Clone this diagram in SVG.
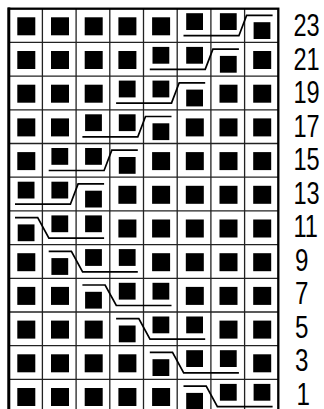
<svg xmlns="http://www.w3.org/2000/svg" xmlns:xlink="http://www.w3.org/1999/xlink" width="324" height="409" viewBox="0 0 324 409">
<style>
.grid line{stroke:#222;stroke-width:1.3}
.border{fill:none;stroke:#000;stroke-width:2.3}
.cab{fill:none;stroke:#000;stroke-width:1.7;stroke-linejoin:miter}
.lbl{font-family:"Liberation Sans","DejaVu Sans",sans-serif;font-size:31px;fill:#000}
</style>
<defs>
<rect id="n" width="18" height="18" fill="#000"/>
<rect id="c" width="16.8" height="16.8" fill="#000"/>
</defs>
<rect width="324" height="409" fill="#fff"/>
<g id="grid" class="grid">
<line x1="42.4" y1="8.7" x2="42.4" y2="414"/>
<line x1="76.1" y1="8.7" x2="76.1" y2="414"/>
<line x1="109.8" y1="8.7" x2="109.8" y2="414"/>
<line x1="143.5" y1="8.7" x2="143.5" y2="414"/>
<line x1="177.2" y1="8.7" x2="177.2" y2="414"/>
<line x1="210.9" y1="8.7" x2="210.9" y2="414"/>
<line x1="244.6" y1="8.7" x2="244.6" y2="414"/>
<line x1="8.7" y1="42.4" x2="278.3" y2="42.4"/>
<line x1="8.7" y1="76.1" x2="278.3" y2="76.1"/>
<line x1="8.7" y1="109.8" x2="278.3" y2="109.8"/>
<line x1="8.7" y1="143.5" x2="278.3" y2="143.5"/>
<line x1="8.7" y1="177.2" x2="278.3" y2="177.2"/>
<line x1="8.7" y1="210.9" x2="278.3" y2="210.9"/>
<line x1="8.7" y1="244.6" x2="278.3" y2="244.6"/>
<line x1="8.7" y1="278.3" x2="278.3" y2="278.3"/>
<line x1="8.7" y1="312" x2="278.3" y2="312"/>
<line x1="8.7" y1="345.7" x2="278.3" y2="345.7"/>
<line x1="8.7" y1="379.4" x2="278.3" y2="379.4"/>
<rect class="border" x="8.7" y="8.7" width="269.6" height="404.4"/>
<line x1="8.9" y1="7.5" x2="8.9" y2="414" style="stroke:#000;stroke-width:2.8"/>
</g>
<g id="row23">
<use href="#n" x="17.3" y="17.3"/><use href="#n" x="51" y="17.3"/><use href="#n" x="84.7" y="17.3"/><use href="#n" x="118.4" y="17.3"/><use href="#n" x="152.1" y="17.3"/>
<use href="#c" x="186.2" y="13.2"/><use href="#c" x="219.9" y="13.2"/><use href="#c" x="253.6" y="22.2"/>
</g>
<g id="row21">
<use href="#n" x="17.3" y="51"/><use href="#n" x="51" y="51"/><use href="#n" x="84.7" y="51"/><use href="#n" x="118.4" y="51"/>
<use href="#c" x="152.5" y="46.9"/><use href="#c" x="186.2" y="46.9"/><use href="#c" x="219.9" y="55.9"/>
<use href="#n" x="253.2" y="51"/>
</g>
<g id="row19">
<use href="#n" x="17.3" y="84.7"/><use href="#n" x="51" y="84.7"/><use href="#n" x="84.7" y="84.7"/>
<use href="#c" x="118.8" y="80.6"/><use href="#c" x="152.5" y="80.6"/><use href="#c" x="186.2" y="89.6"/>
<use href="#n" x="219.5" y="84.7"/><use href="#n" x="253.2" y="84.7"/>
</g>
<g id="row17">
<use href="#n" x="17.3" y="118.4"/><use href="#n" x="51" y="118.4"/>
<use href="#c" x="85.1" y="114.3"/><use href="#c" x="118.8" y="114.3"/><use href="#c" x="152.5" y="123.3"/>
<use href="#n" x="185.8" y="118.4"/><use href="#n" x="219.5" y="118.4"/><use href="#n" x="253.2" y="118.4"/>
</g>
<g id="row15">
<use href="#n" x="17.3" y="152.1"/>
<use href="#c" x="51.4" y="148"/><use href="#c" x="85.1" y="148"/><use href="#c" x="118.8" y="157"/>
<use href="#n" x="152.1" y="152.1"/><use href="#n" x="185.8" y="152.1"/><use href="#n" x="219.5" y="152.1"/><use href="#n" x="253.2" y="152.1"/>
</g>
<g id="row13">
<use href="#c" x="17.7" y="181.7"/><use href="#c" x="51.4" y="181.7"/><use href="#c" x="85.1" y="190.7"/>
<use href="#n" x="118.4" y="185.8"/><use href="#n" x="152.1" y="185.8"/><use href="#n" x="185.8" y="185.8"/><use href="#n" x="219.5" y="185.8"/><use href="#n" x="253.2" y="185.8"/>
</g>
<g id="row11">
<use href="#c" x="17.7" y="224.4"/><use href="#c" x="51.4" y="215.4"/><use href="#c" x="85.1" y="215.4"/>
<use href="#n" x="118.4" y="219.5"/><use href="#n" x="152.1" y="219.5"/><use href="#n" x="185.8" y="219.5"/><use href="#n" x="219.5" y="219.5"/><use href="#n" x="253.2" y="219.5"/>
</g>
<g id="row9">
<use href="#n" x="17.3" y="253.2"/>
<use href="#c" x="51.4" y="258.1"/><use href="#c" x="85.1" y="249.1"/><use href="#c" x="118.8" y="249.1"/>
<use href="#n" x="152.1" y="253.2"/><use href="#n" x="185.8" y="253.2"/><use href="#n" x="219.5" y="253.2"/><use href="#n" x="253.2" y="253.2"/>
</g>
<g id="row7">
<use href="#n" x="17.3" y="286.9"/><use href="#n" x="51" y="286.9"/>
<use href="#c" x="85.1" y="291.8"/><use href="#c" x="118.8" y="282.8"/><use href="#c" x="152.5" y="282.8"/>
<use href="#n" x="185.8" y="286.9"/><use href="#n" x="219.5" y="286.9"/><use href="#n" x="253.2" y="286.9"/>
</g>
<g id="row5">
<use href="#n" x="17.3" y="320.6"/><use href="#n" x="51" y="320.6"/><use href="#n" x="84.7" y="320.6"/>
<use href="#c" x="118.8" y="325.5"/><use href="#c" x="152.5" y="316.5"/><use href="#c" x="186.2" y="316.5"/>
<use href="#n" x="219.5" y="320.6"/><use href="#n" x="253.2" y="320.6"/>
</g>
<g id="row3">
<use href="#n" x="17.3" y="354.3"/><use href="#n" x="51" y="354.3"/><use href="#n" x="84.7" y="354.3"/><use href="#n" x="118.4" y="354.3"/>
<use href="#c" x="152.5" y="359.2"/><use href="#c" x="186.2" y="350.2"/><use href="#c" x="219.9" y="350.2"/>
<use href="#n" x="253.2" y="354.3"/>
</g>
<g id="row1">
<use href="#n" x="17.3" y="388"/><use href="#n" x="51" y="388"/><use href="#n" x="84.7" y="388"/><use href="#n" x="118.4" y="388"/><use href="#n" x="152.1" y="388"/>
<use href="#c" x="186.2" y="392.9"/><use href="#c" x="219.9" y="383.9"/><use href="#c" x="253.6" y="383.9"/>
</g>
<g id="connectors" class="cab">
<path d="M183.5 35.7H238.9L246.6 15.4H272.6"/>
<path d="M149.8 69.4H205.2L212.9 49.1H238.9"/>
<path d="M116.1 103.1H171.5L179.2 82.8H205.2"/>
<path d="M82.4 136.8H137.8L145.5 116.5H171.5"/>
<path d="M48.7 170.5H104.1L111.8 150.2H137.8"/>
<path d="M15 204.2H70.4L78.1 183.9H104.1"/>
<path d="M15 217.6H37.7L48.9 238.1H104.1"/>
<path d="M48.7 251.3H71.4L82.6 271.8H137.8"/>
<path d="M82.4 285H105.1L116.3 305.5H171.5"/>
<path d="M116.1 318.7H138.8L150 339.2H205.2"/>
<path d="M149.8 352.4H172.5L183.7 372.9H238.9"/>
<path d="M183.5 386.1H206.2L217.4 406.6H272.6"/>
</g>
<g id="labels" class="lbl">
<text transform="matrix(0.76 0 0 1 293.5 36.3)">23</text>
<text transform="matrix(0.76 0 0 1 293.5 69.8)">21</text>
<text transform="matrix(0.76 0 0 1 293.5 103.3)">19</text>
<text transform="matrix(0.76 0 0 1 293.5 136.8)">17</text>
<text transform="matrix(0.76 0 0 1 293.5 170.3)">15</text>
<text transform="matrix(0.76 0 0 1 293.5 203.8)">13</text>
<text transform="matrix(0.76 0 0 1 293.5 237.3)">11</text>
<text transform="matrix(0.78 0 0 1 295 270.8)">9</text>
<text transform="matrix(0.78 0 0 1 295 304.3)">7</text>
<text transform="matrix(0.78 0 0 1 295 337.8)">5</text>
<text transform="matrix(0.78 0 0 1 295 371.3)">3</text>
<text transform="matrix(0.78 0 0 1 296.5 404.8)">1</text>
</g>
</svg>
